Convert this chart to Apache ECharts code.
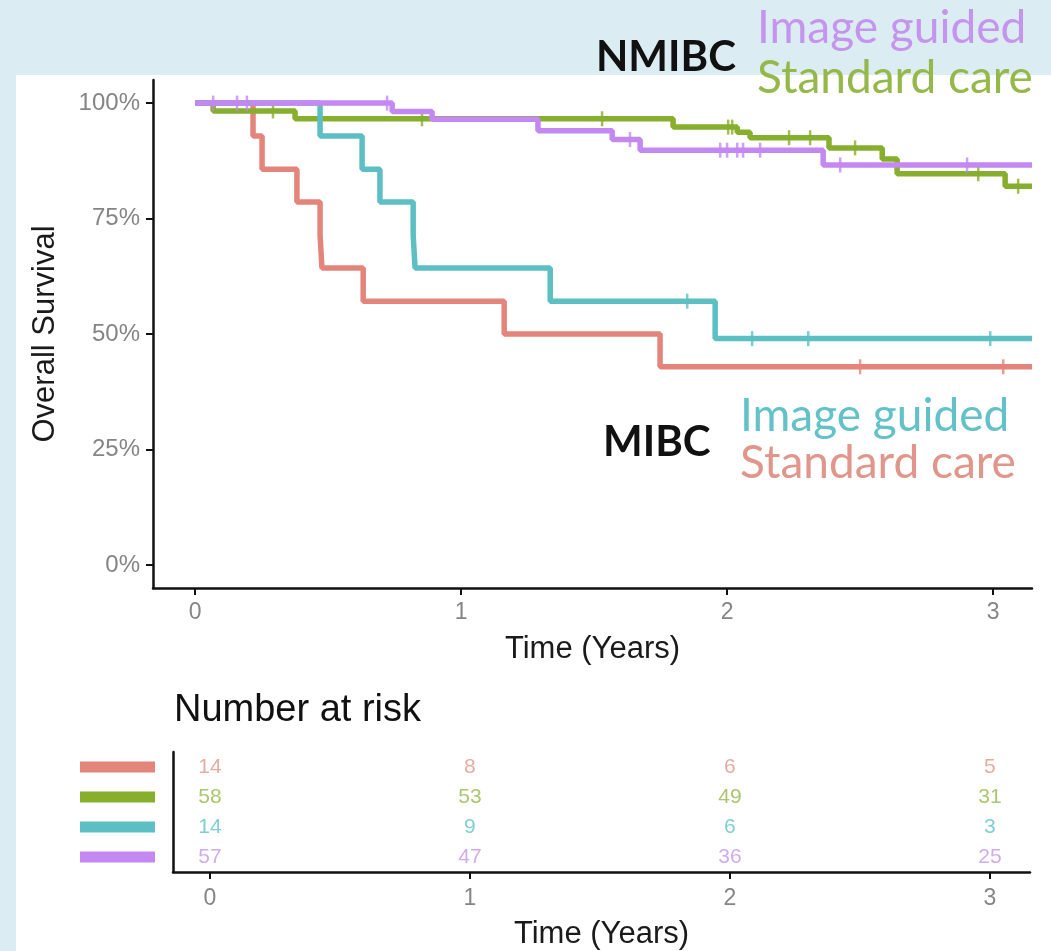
<!DOCTYPE html>
<html>
<head>
<meta charset="utf-8">
<script src="https://cdn.jsdelivr.net/npm/echarts@6/dist/echarts.min.js"></script>
<style>
html,body{margin:0;padding:0;}
body{width:1051px;height:951px;background:#dbedf2;position:relative;overflow:hidden;}
#panel{position:absolute;left:16px;top:75px;right:0;bottom:0;background:#ffffff;}
#chart{position:absolute;left:0;top:0;width:1051px;height:951px;}
</style>
</head>
<body>
<div id="panel"></div>
<div id="chart"></div>
<script>
// ---------- data ----------
const groupNames = ['MIBC Standard care', 'NMIBC Standard care', 'MIBC Image guided', 'NMIBC Image guided'];
const groupColors = ['#e3857a', '#87ae2c', '#5cbfc3', '#c388f2'];
const textColors = ['#e0968a', '#95b84a', '#62c2c8', '#c595ee'];

// Kaplan-Meier step points (time in years, survival fraction)
const timesRed = [0, 0.218, 0.252, 0.383, 0.470, 0.477, 0.632, 1.162, 1.748, 3.146];
const survRed = [1, 0.929, 0.857, 0.786, 0.714, 0.643, 0.571, 0.500, 0.429, 0.429];
const censorTimesRed = [2.500, 3.038];
const censorSurvRed = [0.429, 0.429];

const timesGreen = [0, 0.068, 0.376, 1.797, 2.038, 2.086, 2.383, 2.583, 2.639, 3.045, 3.146];
const survGreen = [1, 0.983, 0.966, 0.948, 0.937, 0.925, 0.903, 0.879, 0.847, 0.820, 0.820];
const censorTimesGreen = [0.293, 0.853, 1.530, 2.004, 2.019, 2.233, 2.312, 2.481, 2.944, 3.094];
const censorSurvGreen = [0.983, 0.966, 0.966, 0.948, 0.948, 0.925, 0.925, 0.903, 0.847, 0.820];

const timesTeal = [0, 0.470, 0.628, 0.695, 0.820, 0.827, 1.335, 1.955, 3.146];
const survTeal = [1, 0.929, 0.857, 0.786, 0.714, 0.643, 0.571, 0.490, 0.490];
const censorTimesTeal = [1.850, 2.094, 2.305, 2.989];
const censorSurvTeal = [0.571, 0.490, 0.490, 0.490];

const timesPurple = [0, 0.741, 0.891, 1.289, 1.568, 1.673, 2.361, 3.146];
const survPurple = [1, 0.982, 0.965, 0.940, 0.921, 0.898, 0.866, 0.866];
const censorTimesPurple = [0.068, 0.158, 0.195, 0.722, 1.635, 1.974, 2.000, 2.038, 2.060, 2.124, 2.425, 2.902];
const censorSurvPurple = [1, 1, 1, 1, 0.921, 0.898, 0.898, 0.898, 0.898, 0.898, 0.866, 0.866];

// Number at risk table
const riskTimes = [0, 1, 2, 3];
const riskRed = [14, 8, 6, 5];
const riskGreen = [58, 53, 49, 31];
const riskTeal = [14, 9, 6, 3];
const riskPurple = [57, 47, 36, 25];

const yTicks = [0, 0.25, 0.5, 0.75, 1];
const xTicks = [0, 1, 2, 3];

// ---------- chart ----------
const curves = [
  [timesRed, survRed, censorTimesRed, censorSurvRed],
  [timesGreen, survGreen, censorTimesGreen, censorSurvGreen],
  [timesTeal, survTeal, censorTimesTeal, censorSurvTeal],
  [timesPurple, survPurple, censorTimesPurple, censorSurvPurple]
];
const risks = [riskRed, riskGreen, riskTeal, riskPurple];

const axisFont = "'Liberation Sans', Arial, Helvetica, sans-serif";

const series = [];
curves.forEach((c, i) => {
  series.push({
    name: groupNames[i],
    type: 'line',
    xAxisIndex: 0, yAxisIndex: 0,
    step: 'end',
    symbol: 'none',
    lineStyle: { color: groupColors[i], width: 5.5 },
    data: c[0].map((t, k) => [t, c[1][k]]),
    z: 2 + i
  });
});
curves.forEach((c, i) => {
  series.push({
    name: groupNames[i] + ' censored',
    type: 'scatter',
    xAxisIndex: 0, yAxisIndex: 0,
    symbol: 'rect',
    symbolSize: [2.5, 15],
    itemStyle: { color: groupColors[i] },
    data: c[2].map((t, k) => [t, c[3][k]]),
    z: 2 + i
  });
});
risks.forEach((r, i) => {
  series.push({
    name: groupNames[i] + ' at risk',
    type: 'scatter',
    xAxisIndex: 1, yAxisIndex: 1,
    symbolSize: 1,
    itemStyle: { color: 'rgba(0,0,0,0)' },
    label: {
      show: true, position: 'inside',
      formatter: p => String(p.value[2]),
      color: textColors[i], fontFamily: axisFont, fontSize: 21
    },
    data: riskTimes.map((t, k) => [t, i, r[k]])
  });
});

const axisLineStyle = { color: '#111', width: 2.5 };
const tickStyle = { color: '#111', width: 2 };
const chart = echarts.init(document.getElementById('chart'), null, { renderer: 'canvas' });
chart.setOption({
  animation: false,
  backgroundColor: 'transparent',
  grid: [
    { left: 153, top: 80, width: 879, height: 508 },
    { left: 173, top: 752, width: 857, height: 120 }
  ],
  xAxis: [
    {
      gridIndex: 0, type: 'value', min: -0.158, max: 3.146,
      name: 'Time (Years)', nameLocation: 'middle', nameGap: 46,
      nameTextStyle: { fontFamily: axisFont, fontSize: 31, color: '#1a1a1a' },
      axisLine: { show: true, onZero: false, lineStyle: axisLineStyle },
      axisTick: { show: true, customValues: xTicks, length: 7, lineStyle: tickStyle },
      axisLabel: { customValues: xTicks, margin: 13, fontFamily: axisFont, fontSize: 23, color: '#858585' },
      splitLine: { show: false }
    },
    {
      gridIndex: 1, type: 'value', min: -0.142, max: 3.154,
      name: 'Time (Years)', nameLocation: 'middle', nameGap: 47,
      nameTextStyle: { fontFamily: axisFont, fontSize: 31, color: '#1a1a1a' },
      axisLine: { show: true, onZero: false, lineStyle: axisLineStyle },
      axisTick: { show: true, customValues: xTicks, length: 7, lineStyle: tickStyle },
      axisLabel: { customValues: xTicks, margin: 15, fontFamily: axisFont, fontSize: 23, color: '#858585' },
      splitLine: { show: false }
    }
  ],
  yAxis: [
    {
      gridIndex: 0, type: 'value', min: -0.05, max: 1.05,
      name: 'Overall Survival', nameLocation: 'middle', nameGap: 92, nameRotate: 90,
      nameTextStyle: { fontFamily: axisFont, fontSize: 31, color: '#1a1a1a' },
      axisLine: { show: true, onZero: false, lineStyle: axisLineStyle },
      axisTick: { show: true, customValues: yTicks, length: 7, lineStyle: tickStyle },
      axisLabel: {
        customValues: yTicks, margin: 13, fontFamily: axisFont, fontSize: 24, color: '#858585',
        formatter: v => Math.round(v * 100) + '%'
      },
      splitLine: { show: false }
    },
    {
      gridIndex: 1, type: 'category', inverse: true,
      data: groupNames,
      axisLine: { show: true, onZero: false, lineStyle: axisLineStyle },
      axisTick: { show: false },
      axisLabel: {
        margin: 18,
        formatter: (v, idx) => '{c' + idx + '|}',
        rich: {
          c0: { width: 75, height: 11, backgroundColor: groupColors[0] },
          c1: { width: 75, height: 11, backgroundColor: groupColors[1] },
          c2: { width: 75, height: 11, backgroundColor: groupColors[2] },
          c3: { width: 75, height: 11, backgroundColor: groupColors[3] }
        }
      },
      splitLine: { show: false }
    }
  ],
  graphic: [
    { type: 'text', left: 174, top: 692, style: { text: 'Number at risk', font: "38px 'Liberation Sans', Arial, sans-serif", fill: '#111' } },
    { type: 'text', x: 596, y: 57, style: { text: 'NMIBC', font: "bold 42px Lato, 'Open Sans', sans-serif", fill: '#111', verticalAlign: 'middle' } },
    { type: 'text', x: 757, y: 28, style: { text: 'Image guided', font: "46px Lato, 'Open Sans', sans-serif", fill: textColors[3], verticalAlign: 'middle' } },
    { type: 'text', x: 757, y: 78, style: { text: 'Standard care', font: "46px Lato, 'Open Sans', sans-serif", fill: textColors[1], verticalAlign: 'middle' } },
    { type: 'text', x: 603, y: 442, style: { text: 'MIBC', font: "bold 42px Lato, 'Open Sans', sans-serif", fill: '#111', verticalAlign: 'middle' } },
    { type: 'text', x: 740, y: 416, style: { text: 'Image guided', font: "46px Lato, 'Open Sans', sans-serif", fill: textColors[2], verticalAlign: 'middle' } },
    { type: 'text', x: 740, y: 463, style: { text: 'Standard care', font: "46px Lato, 'Open Sans', sans-serif", fill: textColors[0], verticalAlign: 'middle' } }
  ],
  series: series
});
</script>
</body>
</html>
